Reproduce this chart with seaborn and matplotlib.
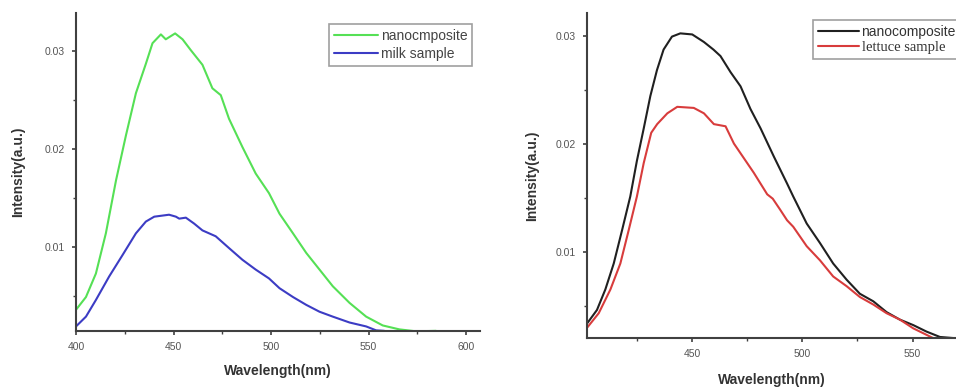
import matplotlib
matplotlib.use("Agg")
import matplotlib.pyplot as plt
import seaborn as sns
import pandas as pd
from matplotlib.ticker import FixedLocator

sns.set_theme(style="white")
plt.rcParams['font.family'] = ['Liberation Sans', 'DejaVu Sans']

# ---- Left panel data (milk) ----
green_x = [400, 405.1, 410.2, 415.3, 420.5, 425.6, 430.7, 435.8, 439.2, 443.5, 446, 450.8,
           454.6, 458.8, 464.8, 469.9, 474.2, 478.4, 485.3, 492.1, 498.9, 504.3, 511.2, 518,
           524.8, 531.6, 540.2, 548.7, 557.2, 565.7, 574.3, 584.5]
green_y = [0.0036, 0.0049, 0.0073, 0.0114, 0.0168, 0.0214, 0.0257, 0.0287, 0.0308, 0.0317,
           0.0312, 0.0318, 0.0312, 0.0301, 0.0286, 0.0262, 0.0255, 0.0231, 0.0202, 0.0175,
           0.0155, 0.0134, 0.0114, 0.0094, 0.0077, 0.0060, 0.0043, 0.0029, 0.0020, 0.0016,
           0.0014, 0.00145]
blue_x = [400, 405.1, 410.2, 417, 423.9, 430.7, 435.8, 440.1, 447.7, 451.2, 452.9, 456.3,
          460.5, 464.8, 471.6, 478.4, 485.3, 492.1, 498.9, 504.3, 511.2, 518, 524.8, 531.6,
          540.2, 548.7, 553.8, 558]
blue_y = [0.0019, 0.0029, 0.0046, 0.0070, 0.0092, 0.0114, 0.0126, 0.0131, 0.0133, 0.0131,
          0.0129, 0.0130, 0.0124, 0.0117, 0.0111, 0.0099, 0.0087, 0.0077, 0.0068, 0.0058,
          0.0049, 0.0041, 0.0034, 0.0029, 0.0023, 0.0019, 0.0015, 0.00145]

# ---- Right panel data (lettuce) ----
black_x = [402.6, 406.9, 410.7, 414.5, 418.3, 422, 425, 428.1, 431.1, 434.1, 437.1, 440.9,
           444.7, 450.1, 455.4, 459.7, 462.9, 467.5, 472, 476.5, 481.1, 487.1, 493.1, 495.9,
           502, 508, 514, 520.1, 526.1, 532.2, 538.2, 544.3, 550.3, 556.3, 562.4, 568.4]
black_y = [0.0034, 0.0046, 0.0065, 0.0089, 0.0120, 0.0151, 0.0184, 0.0214, 0.0244, 0.0268,
           0.0287, 0.0299, 0.0302, 0.0301, 0.0294, 0.0287, 0.0281, 0.0266, 0.0253, 0.0232,
           0.0214, 0.0188, 0.0163, 0.0151, 0.0126, 0.0108, 0.0089, 0.0074, 0.0061, 0.0054,
           0.0044, 0.0037, 0.0032, 0.0026, 0.0021, 0.0020]
red_x = [402.6, 407.7, 413, 417.5, 421.3, 425, 428.1, 431.5, 434.2, 438.8, 443.3, 450.8,
         455.4, 459.9, 465.2, 469, 472, 478, 484.1, 486.6, 489.9, 493.1, 495.9, 502, 508, 514,
         520.1, 526.1, 532.2, 538.2, 544.3, 550.3, 556.3, 559.3]
red_y = [0.0030, 0.0043, 0.0065, 0.0089, 0.0120, 0.0151, 0.0182, 0.0210, 0.0218, 0.0228,
         0.0234, 0.0233, 0.0228, 0.0218, 0.0216, 0.0200, 0.0191, 0.0173, 0.0153, 0.0149,
         0.0139, 0.0129, 0.0123, 0.0105, 0.0092, 0.0077, 0.0068, 0.0058, 0.0051, 0.0043,
         0.0037, 0.0029, 0.0023, 0.0020]

left_labels = ["nanocmposite", "milk sample"]
right_labels = ["nanocomposite", "lettuce sample"]
left_colors = ["#55e055", "#3c3cc4"]
right_colors = ["#202020", "#d83c3c"]

df_left = pd.concat([
    pd.DataFrame({"x": green_x, "y": green_y, "series": left_labels[0]}),
    pd.DataFrame({"x": blue_x, "y": blue_y, "series": left_labels[1]}),
])
df_right = pd.concat([
    pd.DataFrame({"x": black_x, "y": black_y, "series": right_labels[0]}),
    pd.DataFrame({"x": red_x, "y": red_y, "series": right_labels[1]}),
])

fig = plt.figure(figsize=(9.56, 3.89), dpi=100)
ax1 = fig.add_axes([0.0795, 0.149, 0.4225, 0.818])
ax2 = fig.add_axes([0.6143, 0.131, 0.3857, 0.836])

sns.lineplot(data=df_left, x="x", y="y", hue="series", palette=left_colors,
             hue_order=left_labels, ax=ax1, linewidth=1.5, sort=False, estimator=None)
sns.lineplot(data=df_right, x="x", y="y", hue="series", palette=right_colors,
             hue_order=right_labels, ax=ax2, linewidth=1.5, sort=False, estimator=None)

ax1.set_xlim(400, 607)
ax1.set_ylim(0.00143, 0.0339)
ax1.xaxis.set_major_locator(FixedLocator([400, 450, 500, 550, 600]))
ax1.xaxis.set_minor_locator(FixedLocator([425, 475, 525, 575]))
ax2.set_xlim(402.5, 569.7)
ax2.set_ylim(0.0020, 0.0321)
ax2.xaxis.set_major_locator(FixedLocator([450, 500, 550]))
ax2.xaxis.set_minor_locator(FixedLocator([425, 475, 525]))

for ax in (ax1, ax2):
    ax.yaxis.set_major_locator(FixedLocator([0.01, 0.02, 0.03]))
    ax.yaxis.set_minor_locator(FixedLocator([0.005, 0.015, 0.025]))
    ax.set_yticklabels(["0.01", "0.02", "0.03"])
    for s in ["top", "right"]:
        ax.spines[s].set_visible(False)
    for s in ["left", "bottom"]:
        ax.spines[s].set_color("#404040")
        ax.spines[s].set_linewidth(1.5)
    ax.tick_params(which="major", direction="out", length=3, width=1.2, colors="#404040",
                   labelsize=7.5, labelcolor="#555555", bottom=True, left=True, pad=5)
    ax.tick_params(which="minor", direction="out", length=2, width=1.0, colors="#404040",
                   bottom=True, left=True)
    ax.set_xlabel("Wavelength(nm)", fontsize=10, fontweight="bold", color="#333333")
    ax.set_ylabel("Intensity(a.u.)", fontsize=10, fontweight="bold", color="#333333")
    ax.set_facecolor("white")

ax1.xaxis.set_label_coords(0.5, -0.105)
ax1.yaxis.set_label_coords(-0.126, 0.5)
ax2.xaxis.set_label_coords(0.5, -0.108)
ax2.yaxis.set_label_coords(-0.131, 0.5)

leg1 = ax1.legend(loc="upper left", bbox_to_anchor=(0.626, 0.965), frameon=True,
                  fancybox=False, edgecolor="#888888", fontsize=10, handlelength=3.2,
                  handletextpad=0.2, borderpad=0.35, labelspacing=0.3, title=None,
                  borderaxespad=0)
leg1.get_frame().set_linewidth(1.2)
for t in leg1.get_texts():
    t.set_color("#444444")

leg2 = ax2.legend(loc="upper left", bbox_to_anchor=(0.612, 0.978), frameon=True,
                  fancybox=False, edgecolor="#888888", fontsize=10, handlelength=3.0,
                  handletextpad=0.15, borderpad=0.35, labelspacing=0.15, title=None,
                  borderaxespad=0)
leg2.get_frame().set_linewidth(1.2)
for t in leg2.get_texts():
    t.set_color("#333333")
leg2.get_texts()[1].set_fontfamily("Liberation Serif")
leg2.get_texts()[1].set_fontsize(10.5)
leg2.set_clip_on(False)

fig.savefig("out.png", dpi=100, facecolor="white")
